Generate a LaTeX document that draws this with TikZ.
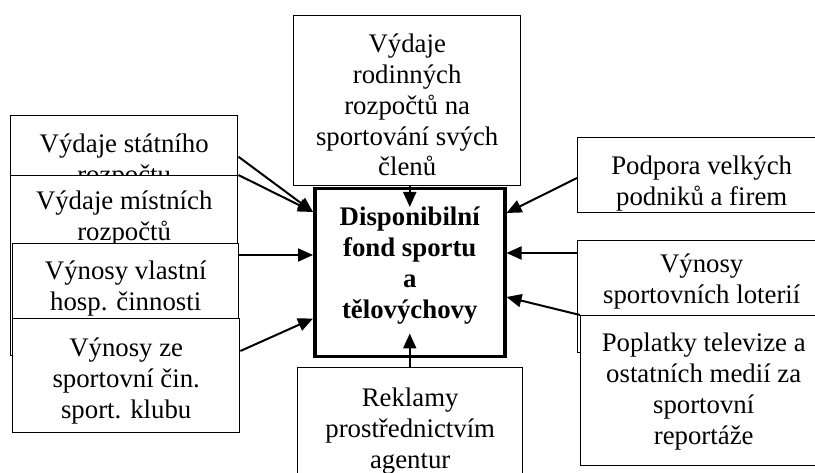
\documentclass[tikz,border=0pt]{standalone}
\usepackage{fontspec}
\setmainfont{Liberation Serif}
\usetikzlibrary{arrows.meta}
\newcommand{\boxtxt}[4]{\parbox[c][#2pt][t]{#1pt}{\centering\rule{0pt}{#3pt}#4}}

\begin{document}
\begin{tikzpicture}[x=1pt,y=-1pt,
		font=\fontsize{26.8}{30.8}\selectfont,
		zdroj/.style={draw,fill=white,line width=1.4pt,inner sep=0pt,anchor=north west},
		fondbox/.style={draw,fill=white,line width=3.5pt,inner sep=0pt,anchor=north west,
			font=\fontsize{26.8}{30.8}\selectfont\bfseries},
		tok/.style={line width=2pt,-{Triangle[length=15pt,width=13pt]}}]
			\useasboundingbox (0,0) rectangle (815,473);
			\clip (0,0) rectangle (815,473);

			% Zdroje vlevo
			\node[zdroj] (statni) at (10,115) {\boxtxt{227}{82}{37}{Výdaje státního\\rozpočtu}};
			\node[zdroj] (mistni) at (10,175) {\boxtxt{227}{180}{34}{Výdaje místních\\rozpočtů}};
			\node[zdroj] (vlastni) at (12,243) {\boxtxt{226}{80}{36}{Výnosy vlastní\\hosp. činnosti}};
			\node[zdroj] (klub) at (12,318) {\boxtxt{227}{114}{38}{Výnosy ze\\sportovní čin.\\sport. klubu}};

			% Zdroje vpravo
			\node[zdroj] (podniky) at (577,137) {\boxtxt{248}{75}{37}{Podpora velkých\\podniků a firem}};
			\node[zdroj] (loterie) at (577,240) {\boxtxt{248}{112}{32}{Výnosy\\sportovních loterií}};
			\node[zdroj] (media) at (580,315) {\boxtxt{246}{150}{36}{Poplatky televize a\\ostatních medií za\\sportovní\\reportáže}};

			% Nahore, fond a dole
			\node[zdroj] (rodiny) at (293,15) {\boxtxt{227}{170}{37}{Výdaje\\rodinných\\rozpočtů na\\sportování svých\\členů}};
			\node[fondbox] (fond) at (313,187) {\boxtxt{190}{168}{37}{Disponibilní\\fond sportu\\a\\tělovýchovy}};
			\node[zdroj] (reklamy) at (297,367) {\boxtxt{225}{130}{39}{Reklamy\\prostřednictvím\\agentur}};

			% Toky do fondu
			\draw[tok] (rodiny.south -| fond.north) -- ([yshift=-20pt]fond.north);
			\draw[tok] (statni.east) -- ([yshift=-25pt]fond.north west);
			\draw[tok] (mistni.north east) -- ([yshift=-25pt]fond.north west);
			\draw[tok] ([yshift=-12pt]vlastni.north east) -- ([yshift=-68pt]fond.north west);
			\draw[tok] ([yshift=-33pt]klub.north east) -- ([yshift=40pt]fond.south west);
			\draw[tok] (reklamy.north -| fond.south) -- ([yshift=25pt]fond.south);
			\draw[tok] ([yshift=-41pt]podniky.north west) -- ([yshift=-26pt]fond.north east);
			\draw[tok] ([yshift=-13pt]loterie.north west) -- ([yshift=-66pt]fond.north east);
			\draw[tok] (media.north west) -- ([yshift=-110pt]fond.north east);
		\end{tikzpicture}
\end{document}
